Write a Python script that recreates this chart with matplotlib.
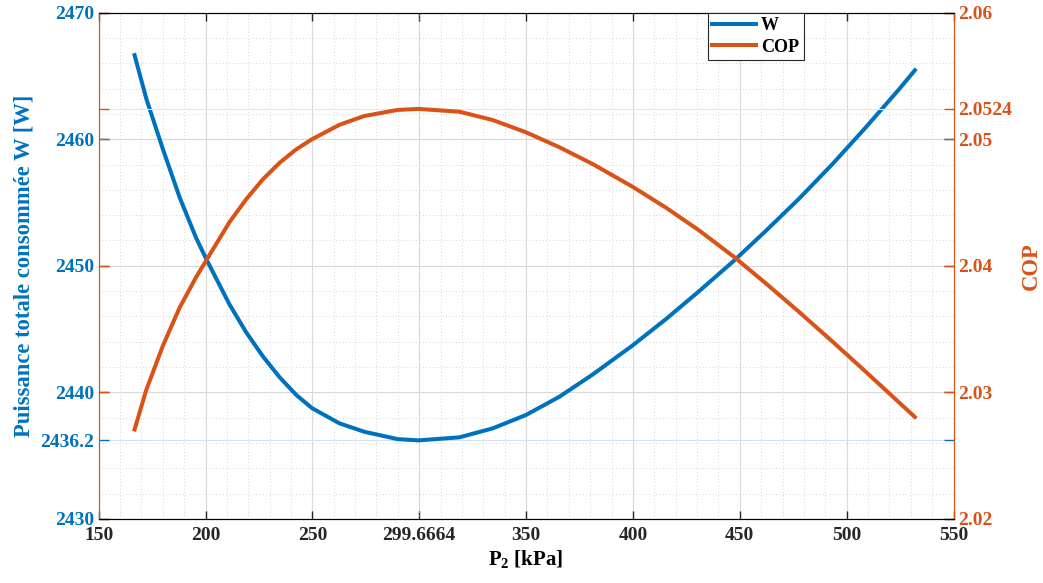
import matplotlib
matplotlib.use("Agg")
import matplotlib.pyplot as plt
from matplotlib.ticker import MultipleLocator

plt.rcParams['font.family'] = ['Liberation Serif', 'DejaVu Serif']
plt.rcParams['font.weight'] = 'bold'
plt.rcParams['mathtext.fontset'] = 'custom'
plt.rcParams['mathtext.rm'] = 'Liberation Serif:bold'
plt.rcParams['mathtext.bf'] = 'Liberation Serif:bold'

# values
p2 = [166.8, 172.3, 180.1, 187.9, 195.6, 200.6, 211.2, 219.0, 226.8, 234.6,
      242.4, 249.8, 262.6, 274.3, 289.9, 299.67, 318.8, 334.4, 350.0, 365.6,
      381.1, 399.8, 415.4, 431.0, 447.4, 462.1, 477.7, 493.3, 508.9, 524.5,
      531.9]
w_total = [2466.65, 2463.2, 2459.2, 2455.4, 2452.2, 2450.45, 2446.95, 2444.75,
           2442.85, 2441.2, 2439.8, 2438.75, 2437.55, 2436.88, 2436.3, 2436.2,
           2436.44, 2437.15, 2438.21, 2439.65, 2441.4, 2443.7, 2445.78, 2448.0,
           2450.42, 2452.75, 2455.3, 2458.03, 2460.93, 2463.95, 2465.45]
cop = [2.02706, 2.0302, 2.0337, 2.0367, 2.0391, 2.0405, 2.04345, 2.04525,
       2.04683, 2.04813, 2.0492, 2.05, 2.05114, 2.05184, 2.05232, 2.0524,
       2.05218, 2.05152, 2.05055, 2.04937, 2.04805, 2.04625, 2.0446, 2.04279,
       2.04069, 2.03862, 2.03636, 2.03402, 2.03163, 2.0292, 2.02805]

x_ticks = [150, 200, 250, 299.6664, 350, 400, 450, 500, 550]
x_ticklabels = ['150', '200', '250', '299.6664', '350', '400', '450', '500', '550']
w_ticks = [2430, 2436.2, 2440, 2450, 2460, 2470]
w_ticklabels = ['2430', '2436.2', '2440', '2450', '2460', '2470']
cop_ticks = [2.02, 2.03, 2.04, 2.05, 2.0524, 2.06]
cop_ticklabels = ['2.02', '2.03', '2.04', '2.05', '2.0524', '2.06']

blue = '#0072BD'
orange = '#D95319'

fig = plt.figure(figsize=(10.43, 5.83), dpi=100)
ax = fig.add_axes([0.0946, 0.1101, 0.8196, 0.868])
ax2 = ax.twinx()

l1, = ax.plot(p2, w_total, color=blue, lw=2.9, label='W',
              solid_joinstyle='round')
l2, = ax2.plot(p2, cop, color=orange, lw=2.9, label='COP',
               solid_joinstyle='round')

ax.set_xlim(150, 550)
ax.set_ylim(2430, 2470)
ax2.set_ylim(2.02, 2.06)

ax.set_xticks(x_ticks)
ax.set_xticklabels(x_ticklabels)
ax.set_yticks(w_ticks)
ax.set_yticklabels(w_ticklabels)
ax2.set_yticks(cop_ticks)
ax2.set_yticklabels(cop_ticklabels)

ax.xaxis.set_minor_locator(MultipleLocator(10))
ax.yaxis.set_minor_locator(MultipleLocator(2))

ax.tick_params(axis='x', which='major', direction='in', length=6, width=1,
               top=True, labelsize=14, colors='#262626', pad=6)
ax.tick_params(axis='y', which='major', direction='in', length=7, width=1,
               left=True, right=True, labelsize=14, colors=blue)
ax.tick_params(which='minor', length=0)
ax2.tick_params(axis='y', which='major', direction='in', length=7, width=1,
                left=True, right=True, labelleft=False, labelright=True,
                labelsize=14, colors=orange)

# grid: major solid, minor dotted
ax.grid(True, which='major', color='#d9d9d9', lw=0.8)
ax.grid(True, which='minor', color='#c8c8c8', lw=0.6, ls=(0, (1, 3)))
for val, gl in zip(w_ticks, ax.yaxis.get_gridlines()):
    if val == 2436.2:
        gl.set_color('#cfe3f2')
ax2.grid(True, axis='y', which='major', color='#f9e0d6', lw=0.8)
for val, gl in zip(cop_ticks, ax2.yaxis.get_gridlines()):
    if val != 2.0524:
        gl.set_visible(False)
ax.set_axisbelow(True)
ax2.set_axisbelow(True)

for s in ['left', 'right']:
    ax2.spines[s].set_color(orange)
    ax.spines[s].set_color(orange)
ax.spines['top'].set_color('#262626')
ax.spines['bottom'].set_color('#262626')

ax.set_xlabel(r'$\mathbf{P_2}$ [kPa]', fontsize=15, fontweight='bold', labelpad=3)
ax.set_ylabel('Puissance totale consommée W [W]', fontsize=16.3,
              fontweight='bold', color=blue, labelpad=4)
ax2.set_ylabel('COP', fontsize=16.3, fontweight='bold', color=orange, labelpad=6)

leg = ax2.legend([l1, l2], ['W', 'COP'], loc='upper left',
                 bbox_to_anchor=(0.7127, 1.0), fontsize=13, fancybox=False,
                 framealpha=1, edgecolor='#262626', handlelength=2.4,
                 borderpad=0.25, labelspacing=0.25, handletextpad=0.3,
                 borderaxespad=0)
leg.get_frame().set_linewidth(0.8)

fig.savefig('out.png', dpi=100)
